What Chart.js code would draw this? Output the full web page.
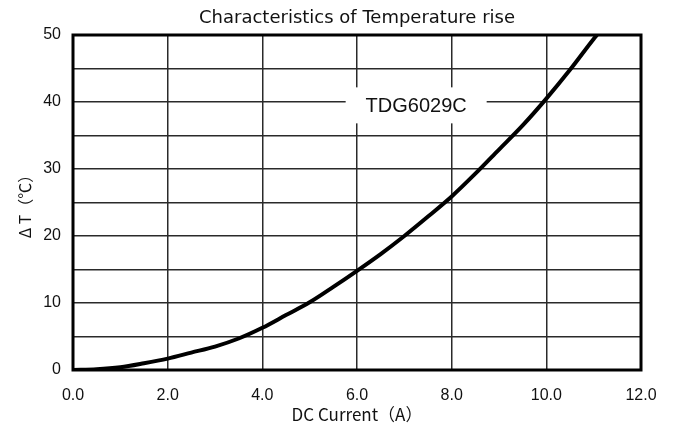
<!DOCTYPE html>
<html>
<head>
<meta charset="utf-8">
<script src="https://cdn.jsdelivr.net/npm/chart.js@4.4.0/dist/chart.umd.min.js"></script>
<style>
html, body { margin: 0; padding: 0; background: #fff; }
#wrap { width: 677px; height: 428px; }
</style>
</head>
<body>
<div id="wrap"><canvas id="tempRiseChart"></canvas></div>
<script>
// DC current (A) and temperature rise (deg C)
var currentA = [0, 0.5, 1.0, 1.5, 2.0, 2.5, 3.0, 3.5, 4.0, 4.5, 5.0, 5.5, 6.0, 6.5, 7.0, 7.5, 8.0, 8.5, 9.0, 9.5, 10.0, 10.5, 11.0, 11.07];
var tempRise = [0, 0.1, 0.4, 1.0, 1.7, 2.6, 3.5, 4.7, 6.3, 8.2, 10.1, 12.4, 14.8, 17.3, 20.0, 22.9, 25.9, 29.3, 32.9, 36.5, 40.5, 44.8, 49.4, 50];
var seriesName = 'TDG6029C';
var chartTitle = 'Characteristics of Temperature rise';
var xTickStep = 2;
var yTickStep = 5;
var yLabelStep = 10;

var gridColor = '#2a2a2a';
var tickFont = { family: 'Liberation Sans, Arial, sans-serif', size: 16 };
var jpFont = 'Noto Sans CJK JP, sans-serif';

// title centred over the plot area, not the whole canvas
var plotTitle = {
    id: 'plotTitle',
    afterDraw: function (chart) {
        var a = chart.chartArea, ctx = chart.ctx;
        ctx.save();
        ctx.fillStyle = '#111';
        ctx.font = '18px DejaVu Sans, sans-serif';
        ctx.textAlign = 'center';
        ctx.textBaseline = 'middle';
        ctx.fillText(chartTitle, (a.left + a.right) / 2, 18);
        ctx.restore();
    }
};

// thick frame round the plot area
var plotFrame = {
    id: 'plotFrame',
    afterDatasetsDraw: function (chart) {
        var a = chart.chartArea, ctx = chart.ctx;
        ctx.save();
        ctx.strokeStyle = '#000';
        ctx.lineWidth = 3;
        ctx.strokeRect(a.left, a.top, a.right - a.left, a.bottom - a.top);
        ctx.restore();
    }
};

// series name in a white box, placed in data units
var seriesTag = {
    id: 'seriesTag',
    beforeDatasetsDraw: function (chart, args, opts) {
        var ctx = chart.ctx;
        var cx = chart.scales.x.getPixelForValue(opts.x);
        var cy = chart.scales.y.getPixelForValue(opts.y);
        ctx.save();
        ctx.fillStyle = '#fff';
        ctx.fillRect(cx - opts.w / 2, cy - opts.h / 2, opts.w, opts.h);
        ctx.fillStyle = '#111';
        ctx.font = '20px Liberation Sans, Arial, sans-serif';
        ctx.textAlign = 'center';
        ctx.textBaseline = 'middle';
        ctx.fillText(opts.text, cx, cy + 1);
        ctx.restore();
    }
};

var ctxTemp = document.getElementById('tempRiseChart').getContext('2d');
var tempRiseChart = new Chart(ctxTemp, {
    type: 'line',
    data: {
        datasets: [{
            label: seriesName,
            data: currentA.map(function (c, i) { return { x: c, y: tempRise[i] }; }),
            borderColor: '#000',
            borderWidth: 4,
            pointRadius: 0,
            fill: false,
            cubicInterpolationMode: 'monotone'
        }]
    },
    plugins: [plotFrame, seriesTag, plotTitle],
    options: {
        responsive: true,
        maintainAspectRatio: false,
        animation: false,
        layout: { padding: { left: 0, right: 36, top: 35, bottom: 0 } },
        plugins: {
            legend: { display: false },
            tooltip: { enabled: false },
            title: { display: false },
            seriesTag: { text: seriesName, x: 7.25, y: 39.5, w: 141, h: 36 }
        },
        scales: {
            x: {
                type: 'linear',
                min: 0,
                max: 12,
                ticks: {
                    stepSize: xTickStep,
                    color: '#111',
                    font: tickFont,
                    padding: 16,
                    maxRotation: 0,
                    callback: function (v) { return v.toFixed(1); }
                },
                grid: { color: gridColor, lineWidth: 1.5, drawTicks: false },
                border: { display: false },
                title: {
                    display: true,
                    text: 'DC Current（A）',
                    color: '#111',
                    font: { family: jpFont, size: 17 },
                    padding: { top: 0, bottom: 3 }
                },
                afterFit: function (s) { s.height = 58; }
            },
            y: {
                min: 0,
                max: 50,
                ticks: {
                    stepSize: yTickStep,
                    color: '#111',
                    font: tickFont,
                    padding: 12,
                    callback: function (v) { return v % yLabelStep === 0 ? v : ''; }
                },
                grid: { color: gridColor, lineWidth: 1.5, drawTicks: false },
                border: { display: false },
                title: {
                    display: true,
                    text: 'Δ T（℃）',
                    color: '#111',
                    font: { family: jpFont, size: 16 },
                    padding: { top: 15, bottom: 0 }
                },
                afterFit: function (s) { s.width = 73; }
            }
        }
    }
});
</script>
</body>
</html>
